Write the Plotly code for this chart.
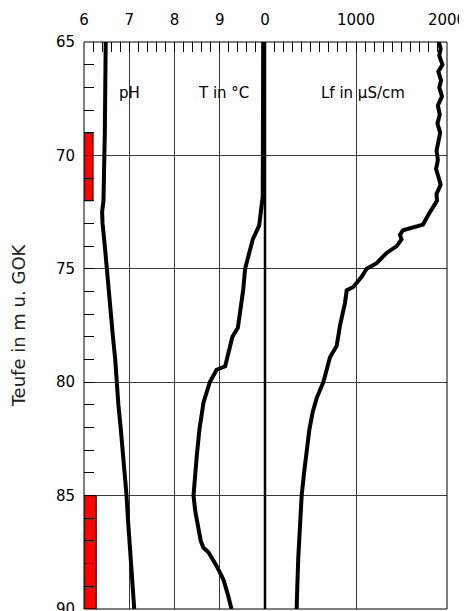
import plotly.graph_objects as go

# ---------------- data ----------------
ph_depth = [65, 66, 67, 68, 69, 70, 71, 72, 72.5, 73, 74, 75, 76, 77, 78, 79, 80,
            81, 82, 83, 84, 85, 86, 87, 88, 89, 90]
ph_value = [6.48, 6.48, 6.47, 6.46, 6.46, 6.45, 6.44, 6.43, 6.40, 6.41, 6.46, 6.50,
            6.55, 6.60, 6.64, 6.69, 6.72, 6.76, 6.81, 6.86, 6.90, 6.94, 6.97, 7.00,
            7.03, 7.07, 7.11]

t_depth = [65, 66, 67, 68, 69, 70, 71, 71.8, 72.3, 73.1, 73.7, 74.5, 75.0, 75.9,
           77.1, 77.6, 78.0, 78.5, 79.0, 79.3, 79.45, 80.0, 80.9, 82.1, 83.3, 84.2,
           85.0, 85.7, 86.4, 87.0, 87.3, 87.5, 88.1, 88.7, 89.3, 90.0]
t_value = [9.96, 9.96, 9.96, 9.95, 9.96, 9.96, 9.95, 9.95, 9.92, 9.87, 9.73, 9.63,
           9.56, 9.52, 9.45, 9.40, 9.28, 9.22, 9.15, 9.12, 8.93, 8.78, 8.64, 8.55,
           8.49, 8.45, 8.42, 8.46, 8.53, 8.58, 8.64, 8.75, 8.93, 9.08, 9.17, 9.26]

lf_depth = [65, 65.3, 65.6, 66.0, 66.3, 66.7, 67.0, 67.4, 67.8, 68.2, 68.6, 69.0,
            69.4, 69.8, 70.2, 70.6, 71.0, 71.3, 71.7, 72.0, 72.5, 73.05, 73.3, 73.5,
            73.7, 74.0, 74.3, 74.75, 75.0, 75.35, 75.8, 75.95, 76.5, 77.5, 78.4,
            78.9, 79.45, 80.0, 80.7, 81.3, 82.1, 83.0, 84.0, 85.0, 86.3, 87.7, 89.0,
            90.0]
lf_value = [1910, 1930, 1915, 1950, 1905, 1935, 1915, 1945, 1900, 1920, 1895, 1925,
            1905, 1885, 1900, 1880, 1910, 1930, 1885, 1890, 1813, 1736, 1516, 1483,
            1500, 1447, 1337, 1227, 1117, 1062, 970, 898, 879, 824, 788,
            714, 678, 641, 568, 525, 487, 455, 429, 403, 383, 366, 355, 348]

# filter screens (depth interval, drawn width in pH units)
screen_top = [69, 85]
screen_bottom = [72, 90]
screen_width = [0.2, 0.27]

left_ticks = [6, 7, 8, 9]
right_ticks = [0, 1000, 2000]
depth_ticks = [65, 70, 75, 80, 85, 90]
track_labels = ["pH", "T in °C", "Lf in µS/cm"]
label_pos = [7.0, 9.08, 1077]
label_depth = 67.25

# ---------------- figure ----------------
FONT = "DejaVu Sans"
GRID = "#3a3a3a"
SPLIT = 181 / 363

fig = go.Figure()

fig.add_trace(go.Bar(
    x=[6 + w / 2 for w in screen_width],
    y=[b - t for t, b in zip(screen_top, screen_bottom)],
    base=screen_top,
    width=screen_width,
    marker=dict(color="#ff0000", line=dict(color="black", width=1)),
    xaxis="x", yaxis="y", showlegend=False, hoverinfo="skip",
))

fig.add_trace(go.Scatter(x=ph_value, y=ph_depth, mode="lines",
                         line=dict(color="black", width=4),
                         xaxis="x", yaxis="y", showlegend=False))
fig.add_trace(go.Scatter(x=t_value, y=t_depth, mode="lines",
                         line=dict(color="black", width=4),
                         xaxis="x", yaxis="y", showlegend=False))
fig.add_trace(go.Scatter(x=lf_value, y=lf_depth, mode="lines",
                         line=dict(color="black", width=4),
                         xaxis="x2", yaxis="y", showlegend=False))

tickfont = dict(family=FONT, size=15, color="black")

# page body has an 8px margin, so the figure is sized/offset to compensate
fig.update_layout(
    width=459, height=603,
    margin=dict(l=76, r=20, t=34, b=2, autoexpand=False),
    paper_bgcolor="white", plot_bgcolor="white",
    barmode="overlay",
    xaxis=dict(
        domain=[0, SPLIT], range=[6, 10], side="top", anchor="y",
        tickmode="array", tickvals=left_ticks, ticktext=[str(v) for v in left_ticks],
        ticks="inside", ticklen=10, tickcolor="black", tickwidth=1,
        showgrid=True, gridcolor=GRID, gridwidth=1, zeroline=False,
        showline=False, tickfont=tickfont, ticklabelstandoff=13,
        minor=dict(dtick=0.2, tick0=6, ticks="inside", ticklen=10,
                   tickcolor="black", tickwidth=1, showgrid=False),
        fixedrange=True,
    ),
    xaxis2=dict(
        domain=[SPLIT, 1], range=[0, 2000], side="top", anchor="y",
        tickmode="array", tickvals=right_ticks, ticktext=[str(v) for v in right_ticks],
        ticks="inside", ticklen=10, tickcolor="black", tickwidth=1,
        showgrid=True, gridcolor=GRID, gridwidth=1, zeroline=False,
        showline=False, tickfont=tickfont, ticklabelstandoff=13,
        ticklabeloverflow="allow",
        minor=dict(dtick=100, tick0=0, ticks="inside", ticklen=10,
                   tickcolor="black", tickwidth=1, showgrid=False),
        fixedrange=True,
    ),
    yaxis=dict(
        range=[90, 65], anchor="x",
        tickmode="array", tickvals=depth_ticks,
        ticks="inside", ticklen=10, tickcolor="black", tickwidth=1,
        showgrid=True, gridcolor=GRID, gridwidth=1, zeroline=False,
        showline=False, tickfont=tickfont, ticklabelstandoff=8,
        ticklabeloverflow="allow",
        minor=dict(dtick=1, tick0=65, ticks="inside", ticklen=10,
                   tickcolor="black", tickwidth=1, showgrid=False),
        title=dict(text="Teufe in m u. GOK", standoff=25,
                   font=dict(family=FONT, size=18, color="#222222")),
        fixedrange=True,
    ),
    shapes=[
        dict(type="rect", xref="paper", yref="paper", x0=0, x1=1, y0=0, y1=1,
             line=dict(color="black", width=1), layer="above"),
        dict(type="line", xref="paper", yref="paper", x0=SPLIT, x1=SPLIT, y0=0, y1=1,
             line=dict(color="black", width=2.5), layer="above"),
    ],
)

for i, (txt, pos) in enumerate(zip(track_labels, label_pos)):
    fig.add_annotation(
        x=pos, y=label_depth, xref="x2" if i == 2 else "x", yref="y",
        text=txt, showarrow=False,
        font=dict(family=FONT, size=15, color="black"),
    )

fig.write_html("out.html")
